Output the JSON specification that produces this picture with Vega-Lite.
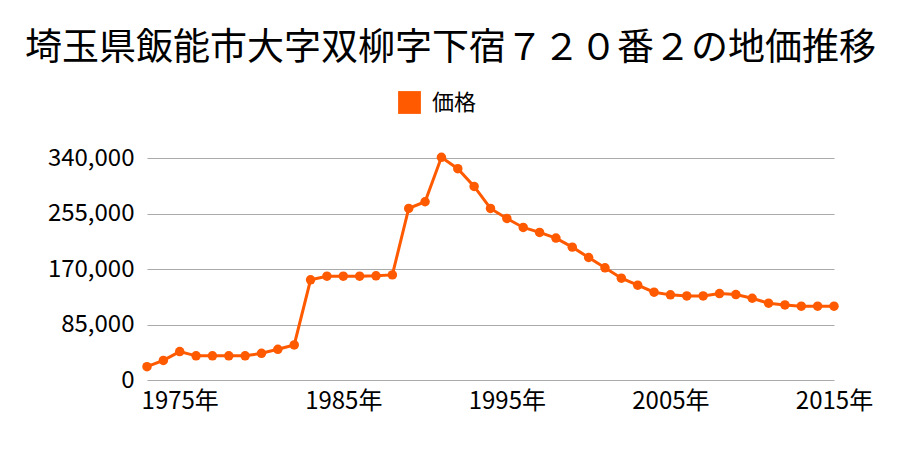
{
  "$schema": "https://vega.github.io/schema/vega-lite/v6.json",
  "autosize": "none",
  "width": 687,
  "height": 222,
  "padding": {"left": 147, "top": 158, "right": 66, "bottom": 70},
  "background": "white",
  "config": {
    "font": "Noto Sans CJK JP",
    "view": {"stroke": null}
  },
  "title": {
    "text": "埼玉県飯能市大字双柳字下宿７２０番２の地価推移",
    "fontSize": 37,
    "fontWeight": "normal",
    "color": "#000000",
    "anchor": "middle",
    "dx": -40,
    "offset": 22
  },
  "data": {
    "values": [
      {"year": 1973, "price": 20400, "s": "価格"},
      {"year": 1974, "price": 30000, "s": "価格"},
      {"year": 1975, "price": 43500, "s": "価格"},
      {"year": 1976, "price": 37000, "s": "価格"},
      {"year": 1977, "price": 37000, "s": "価格"},
      {"year": 1978, "price": 37000, "s": "価格"},
      {"year": 1979, "price": 37000, "s": "価格"},
      {"year": 1980, "price": 40900, "s": "価格"},
      {"year": 1981, "price": 47000, "s": "価格"},
      {"year": 1982, "price": 53700, "s": "価格"},
      {"year": 1983, "price": 153400, "s": "価格"},
      {"year": 1984, "price": 159000, "s": "価格"},
      {"year": 1985, "price": 159000, "s": "価格"},
      {"year": 1986, "price": 159000, "s": "価格"},
      {"year": 1987, "price": 159500, "s": "価格"},
      {"year": 1988, "price": 161000, "s": "価格"},
      {"year": 1989, "price": 262700, "s": "価格"},
      {"year": 1990, "price": 273000, "s": "価格"},
      {"year": 1991, "price": 341000, "s": "価格"},
      {"year": 1992, "price": 323600, "s": "価格"},
      {"year": 1993, "price": 296500, "s": "価格"},
      {"year": 1994, "price": 262700, "s": "価格"},
      {"year": 1995, "price": 247400, "s": "価格"},
      {"year": 1996, "price": 233600, "s": "価格"},
      {"year": 1997, "price": 226000, "s": "価格"},
      {"year": 1998, "price": 217300, "s": "価格"},
      {"year": 1999, "price": 203500, "s": "価格"},
      {"year": 2000, "price": 187600, "s": "価格"},
      {"year": 2001, "price": 171800, "s": "価格"},
      {"year": 2002, "price": 155900, "s": "価格"},
      {"year": 2003, "price": 145200, "s": "価格"},
      {"year": 2004, "price": 134500, "s": "価格"},
      {"year": 2005, "price": 130400, "s": "価格"},
      {"year": 2006, "price": 128800, "s": "価格"},
      {"year": 2007, "price": 128800, "s": "価格"},
      {"year": 2008, "price": 132400, "s": "価格"},
      {"year": 2009, "price": 130900, "s": "価格"},
      {"year": 2010, "price": 125200, "s": "価格"},
      {"year": 2011, "price": 117600, "s": "価格"},
      {"year": 2012, "price": 115000, "s": "価格"},
      {"year": 2013, "price": 113000, "s": "価格"},
      {"year": 2014, "price": 113000, "s": "価格"},
      {"year": 2015, "price": 113000, "s": "価格"}
    ]
  },
  "encoding": {
    "x": {
      "field": "year",
      "type": "quantitative",
      "scale": {"domain": [1973, 2015], "nice": false, "zero": false},
      "axis": {
        "title": null,
        "values": [1975, 1985, 1995, 2005, 2015],
        "labelExpr": "datum.value + '年'",
        "grid": false,
        "domain": false,
        "ticks": false,
        "labelFontSize": 24,
        "labelColor": "#000000",
        "labelPadding": 9,
        "labelFlush": false
      }
    },
    "y": {
      "field": "price",
      "type": "quantitative",
      "scale": {"domain": [0, 340000], "nice": false},
      "axis": {
        "title": null,
        "values": [0, 85000, 170000, 255000, 340000],
        "format": ",d",
        "grid": true,
        "gridColor": "#aaaaaa",
        "gridWidth": 1,
        "domain": false,
        "ticks": false,
        "labelFontSize": 24,
        "labelColor": "#000000",
        "labelPadding": 13
      }
    }
  },
  "layer": [
    {
      "mark": {"type": "line", "color": "#FF5A00", "strokeWidth": 3}
    },
    {
      "mark": {"type": "point", "filled": true, "opacity": 1, "size": 90, "shape": "circle"},
      "encoding": {
        "color": {
          "field": "s",
          "type": "nominal",
          "scale": {"range": ["#FF5A00"]},
          "legend": {
            "title": null,
            "orient": "none",
            "legendX": 250,
            "legendY": -68,
            "symbolType": "square",
            "symbolSize": 520,
            "labelFontSize": 22,
            "labelColor": "#000000",
            "labelOffset": 10
          }
        }
      }
    }
  ]
}
